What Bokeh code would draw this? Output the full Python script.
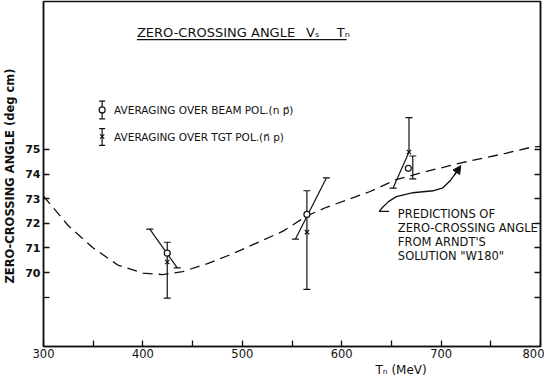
from bokeh.plotting import figure
from bokeh.models import (Range1d, FixedTicker, LinearAxis, Label, Arrow,
                          NormalHead, Title)
from bokeh.embed import file_html
from bokeh.resources import INLINE

# ---------------- data ----------------
# Predicted zero-crossing angle from Arndt's solution "W180"
w180_tn = [300, 325, 350, 375, 400, 420, 440, 465, 490, 520, 541, 565, 584,
           628, 654, 680, 719, 765, 790, 800]
w180_angle = [73.1, 71.9, 71.0, 70.3, 69.98, 69.92, 70.04, 70.36, 70.76, 71.3,
              71.68, 72.3, 72.64, 73.28, 73.76, 74.05, 74.44, 74.84, 75.08, 75.12]

# averaging over beam polarisation (open circles)
beam_tn = [424.5, 565.0, 667.0]
beam_angle = [70.79, 72.36, 74.23]
# averaging over target polarisation (crosses)
tgt_tn = [424.5, 565.0, 667.7]
tgt_angle = [70.43, 71.64, 74.89]

# vertical error bars
bar_tn = [424.5, 565.0, 667.7, 671.5]
bar_lo = [68.96, 69.32, 74.89, 73.80]
bar_hi = [71.23, 73.32, 76.29, 74.73]
bar_lo_capped = [True, True, False, True]

# slanted bars
slope_tn0 = [406.9, 553.5, 651.7]
slope_a0 = [71.76, 71.36, 73.43]
slope_tn1 = [434.6, 584.6, 667.7]
slope_a1 = [70.19, 73.84, 74.89]
slope_end_capped = [True, True, False]

x_major_ticks = [300, 400, 500, 600, 700, 800]
x_minor_ticks = [350, 450, 550, 650, 750]
y_major_ticks = [70, 71, 72, 73, 74, 75]
y_minor_ticks = [69]

FONT = "DejaVu Sans"
INK = "#111111"

# ---------------- figure ----------------
p = figure(width=544, height=376, x_range=Range1d(300, 800), y_range=Range1d(67, 81),
           output_backend="svg", toolbar_location=None,
           min_border_left=41, min_border_right=4, min_border_top=1, min_border_bottom=25)
p.grid.visible = False
p.outline_line_color = INK
p.outline_line_width = 1.5
p.background_fill_color = "white"
p.border_fill_color = "white"


def style_axis(ax):
    ax.major_tick_in = 6
    ax.major_tick_out = 0
    ax.minor_tick_in = 6
    ax.minor_tick_out = 0
    ax.axis_line_width = 1.5
    ax.axis_line_color = INK
    ax.major_tick_line_color = INK
    ax.minor_tick_line_color = INK
    ax.major_tick_line_width = 1.3
    ax.minor_tick_line_width = 1.3


xa = p.xaxis[0]
xa.ticker = FixedTicker(ticks=x_major_ticks, minor_ticks=x_minor_ticks)
style_axis(xa)
xa.major_label_text_font = FONT
xa.major_label_text_font_size = "11.5px"
xa.major_label_text_color = INK
xa.major_label_standoff = 2

ya = p.yaxis[0]
ya.ticker = FixedTicker(ticks=y_major_ticks, minor_ticks=y_minor_ticks)
style_axis(ya)
ya.major_label_text_font = FONT
ya.major_label_text_font_style = "bold"
ya.major_label_text_font_size = "11px"
ya.major_label_text_color = INK
ya.major_label_standoff = 3
ya.axis_label = "ZERO-CROSSING ANGLE  (deg cm)"
ya.axis_label_text_font = FONT
ya.axis_label_text_font_style = "bold"
ya.axis_label_text_font_size = "11.5px"
ya.axis_label_text_color = INK
ya.axis_label_standoff = 5

ra = LinearAxis(ticker=FixedTicker(ticks=[], minor_ticks=y_minor_ticks + y_major_ticks))
style_axis(ra)
ra.major_label_standoff = 0
p.add_layout(ra, "right")

# x-axis label, placed right of centre as in the original
p.add_layout(Title(text="Tₙ   (MeV)", align="left", offset=332, standoff=0,
                   text_font=FONT, text_font_size="12px", text_font_style="normal",
                   text_color=INK), "below")

# ---------------- prediction curve ----------------
p.line(w180_tn, w180_angle, line_color=INK, line_width=1.3, line_dash="10 6")

# ---------------- measurements ----------------
p.segment(bar_tn, bar_lo, bar_tn, bar_hi, line_color=INK, line_width=1.2)
p.scatter(bar_tn, bar_hi, marker="dash", size=7, line_color=INK, line_width=1.2)
p.scatter([t for t, c in zip(bar_tn, bar_lo_capped) if c],
          [v for v, c in zip(bar_lo, bar_lo_capped) if c],
          marker="dash", size=7, line_color=INK, line_width=1.2)

p.segment(slope_tn0, slope_a0, slope_tn1, slope_a1, line_color=INK, line_width=1.2)
p.scatter(slope_tn0, slope_a0, marker="dash", size=7, line_color=INK, line_width=1.2)
p.scatter([t for t, c in zip(slope_tn1, slope_end_capped) if c],
          [v for v, c in zip(slope_a1, slope_end_capped) if c],
          marker="dash", size=7, line_color=INK, line_width=1.2)

p.scatter(beam_tn, beam_angle, marker="circle", size=6, fill_color="white",
          line_color=INK, line_width=1.2)
p.scatter(tgt_tn, tgt_angle, marker="x", size=6, line_color=INK, line_width=1.2)


# ---------------- title ----------------
def lab(x, y, text, size, style="normal", **kw):
    l = Label(x=x, y=y, text=text, text_font=FONT, text_font_size=size,
              text_font_style=style, text_color=INK, **kw)
    p.add_layout(l)
    return l


lab(394, 79.76, "ZERO-CROSSING ANGLE", "13px", text_baseline="middle")
lab(564, 79.76, "Vₛ", "13px", text_baseline="middle")
lab(595, 79.76, "Tₙ", "13px", text_baseline="middle")
p.segment(x0=394, y0=79.45, x1=605, y1=79.45, line_color=INK, line_width=1.2)

# ---------------- legend ----------------
leg_tn = 359
p.segment(x0=leg_tn, y0=76.24, x1=leg_tn, y1=76.96, line_color=INK, line_width=1.2)
p.scatter([leg_tn, leg_tn], [76.24, 76.96], marker="dash", size=6, line_color=INK, line_width=1.2)
p.scatter([leg_tn], [76.6], marker="circle", size=6, fill_color="white", line_color=INK, line_width=1.2)
p.segment(x0=leg_tn, y0=75.16, x1=leg_tn, y1=75.84, line_color=INK, line_width=1.2)
p.scatter([leg_tn, leg_tn], [75.16, 75.84], marker="dash", size=6, line_color=INK, line_width=1.2)
p.scatter([leg_tn], [75.52], marker="x", size=6, line_color=INK, line_width=1.2)
lab(371, 76.6, "AVERAGING  OVER  BEAM  POL.(n p\u20d7)", "10.5px", text_baseline="middle")
lab(371, 75.52, "AVERAGING  OVER  TGT  POL.(n\u20d7 p)", "10.5px", text_baseline="middle")

# ---------------- annotation ----------------
note = ["PREDICTIONS OF", "ZERO-CROSSING ANGLE", "FROM  ARNDT'S", "SOLUTION  \"W180\""]
for i, t in enumerate(note):
    lab(656.5, 72.36, t, "11.5px", text_baseline="middle", y_offset=-13.8 * i)

arrow_tn = [647.7, 637.7, 641.0, 647.0, 655.0, 671.7, 691.8, 701.8, 709.8, 715.0]
arrow_a = [72.48, 72.48, 72.64, 72.88, 73.08, 73.24, 73.32, 73.44, 73.76, 74.06]
p.line(arrow_tn, arrow_a, line_color=INK, line_width=1.3)
p.add_layout(Arrow(end=NormalHead(size=8, fill_color=INK, line_color=INK),
                   x_start=713.5, y_start=73.96, x_end=719.8, y_end=74.34,
                   line_color=INK, line_width=1.3))

open("out.html", "w").write(file_html(p, INLINE))
